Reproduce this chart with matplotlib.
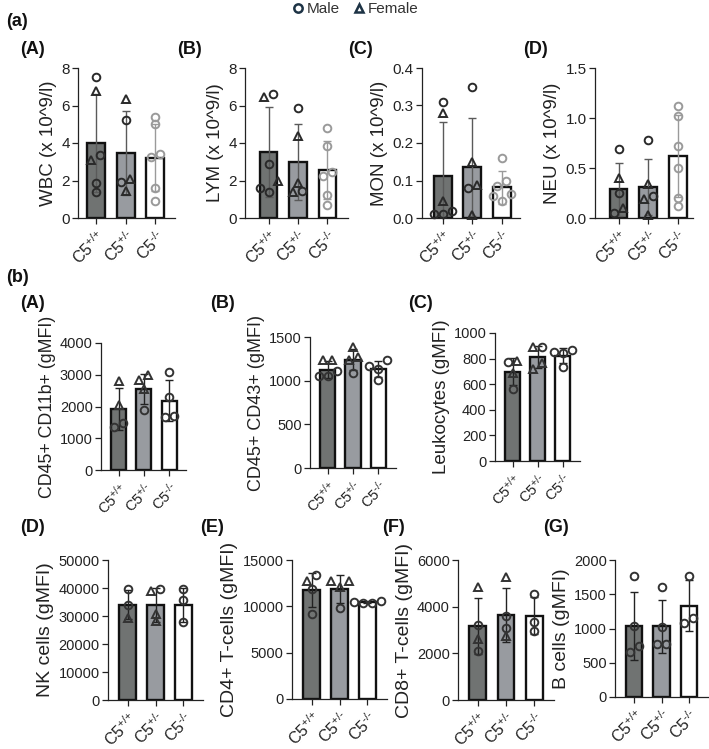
import numpy as np
import matplotlib
matplotlib.use('Agg')
import matplotlib.pyplot as plt
from matplotlib.lines import Line2D
from matplotlib.ticker import FormatStrFormatter

plt.rcParams['font.family'] = ['Liberation Sans', 'DejaVu Sans']
plt.rcParams['mathtext.fontset'] = 'custom'
plt.rcParams['mathtext.rm'] = 'Liberation Sans'
plt.rcParams['mathtext.default'] = 'regular'

W, H = 709, 749
groups = [r'C5$^{\text{+/+}}$', r'C5$^{\text{+/-}}$', r'C5$^{\text{-/-}}$']

# ---- (a) blood counts, x 10^9/l
wbc_vals = [[7.5, 6.8, 3.1, 3.35, 1.85, 1.4], [6.35, 5.25, 2.1, 1.9, 1.45], [5.4, 5.0, 3.25, 3.4, 1.6, 0.9]]
wbc_sex = ['MFFMMM', 'FMFMF', 'MMMMMM']
wbc_mean = [4.0, 3.45, 3.22]
wbc_sd = [2.6, 2.24, 1.8]

lym_vals = [[6.45, 6.6, 2.9, 1.95, 1.4, 1.6], [5.85, 4.35, 1.85, 1.4, 1.45], [4.8, 3.85, 2.25, 2.45, 1.25, 0.7]]
lym_sex = ['FMMFMM', 'MFFFM', 'MMMMMM']
lym_mean = [3.5, 3.0, 2.55]
lym_sd = [2.4, 2.03, 1.55]

mon_vals = [[0.31, 0.28, 0.045, 0.02, 0.012, 0.012], [0.35, 0.15, 0.088, 0.08, 0.008], [0.16, 0.10, 0.085, 0.065, 0.06, 0.045]]
mon_sex = ['MFFMMM', 'MFFMF', 'MMMMMM']
mon_mean = [0.113, 0.136, 0.082]
mon_sd = [0.143, 0.13, 0.044]

neu_vals = [[0.69, 0.40, 0.25, 0.10, 0.05], [0.78, 0.34, 0.22, 0.19, 0.03], [1.12, 1.02, 0.72, 0.50, 0.20, 0.12]]
neu_sex = ['MFMFM', 'MFMFF', 'MMMMMM']
neu_mean = [0.29, 0.315, 0.62]
neu_sd = [0.265, 0.28, 0.41]

# ---- (b) gMFI
cd11b_vals = [[2800, 2050, 1370, 1475], [2980, 2820, 2540, 1900], [3080, 2290, 1660, 1715]]
cd11b_sex = ['FFMM', 'FFFM', 'MMMM']
cd11b_mean = [1910, 2550, 2180]
cd11b_sd = [660, 470, 650]

cd43_vals = [[1240, 1240, 1110, 1055, 1050], [1385, 1275, 1235, 1085], [1235, 1170, 1135, 1010]]
cd43_sex = ['FFMMM', 'FFFM', 'MMMM']
cd43_mean = [1125, 1240, 1135]
cd43_sd = [95, 120, 95]

leu_vals = [[775, 780, 685, 560], [888, 890, 769, 722], [868, 847, 852, 732]]
leu_sex = ['MFFM', 'FMFF', 'MMMM']
leu_mean = [697, 810, 822]
leu_sd = [105, 85, 58]

nk_vals = [[39600, 33800, 29200], [39000, 39800, 30800, 28300], [39600, 35600, 27700]]
nk_sex = ['MMF', 'FMFF', 'MMM']
nk_mean = [34100, 34000, 34000]
nk_sd = [5300, 6000, 6000]

cd4_vals = [[12700, 13400, 11900, 9160], [12700, 12770, 12100, 9850], [10550, 10450, 10400, 10350]]
cd4_sex = ['FMMM', 'FFFM', 'MMMM']
cd4_mean = [11800, 11900, 10430]
cd4_sd = [1850, 1500, 90]

cd8_vals = [[4860, 3210, 2600, 2110], [5290, 3610, 3070, 2760], [4530, 3360, 2970]]
cd8_sex = ['FMFM', 'FMMF', 'MMM']
cd8_mean = [3180, 3640, 3620]
cd8_sd = [1200, 1140, 800]

bc_vals = [[1760, 1035, 750, 660], [1600, 1015, 775, 775], [1760, 1160, 1075]]
bc_sex = ['MMMM', 'MMMM', 'MMM']
bc_mean = [1040, 1030, 1335]
bc_sd = [500, 390, 370]

bar_colors = ['#707372', '#989ba0', '#ffffff']

fig = plt.figure(figsize=(W / 100, H / 100), dpi=100)


def spread(vals, ypx, step):
    # small horizontal offsets so that close points do not overlap
    order = np.argsort(vals)
    offs = np.zeros(len(vals))
    clusters = [[order[0]]]
    for k in order[1:]:
        if abs(vals[k] - vals[clusters[-1][-1]]) * ypx < 7:
            clusters[-1].append(k)
        else:
            clusters.append([k])
    for c in clusters:
        n = len(c)
        if n == 1:
            continue
        pos = [0, -1, 1, -2, 2] if n % 2 else [-0.5, 0.5, -1.5, 1.5]
        for j, k in enumerate(c):
            offs[k] = pos[j] * step
    return offs


def panel(box, xl, xr, vals, sex, mean, sd, ymax, ystep, ylabel, fmt=None,
          light=False, tfs=11, lfs=13.5, xfs=11.5):
    x0, y0, x1, y1 = box
    ax = fig.add_axes([x0 / W, 1 - y1 / H, (x1 - x0) / W, (y1 - y0) / H])
    xpx = (x1 - x0) / (xr - xl)
    ypx = (y1 - y0) / ymax
    for i in range(3):
        ax.bar(i, mean[i], width=0.6, color=bar_colors[i], edgecolor='#111111',
               linewidth=1.7, zorder=1)
        if light:
            ecol = '#9a9a9a' if i == 2 else '#5a5a5a'
            mcol = '#9a9a9a' if i == 2 else '#2a2a2a'
        else:
            ecol = '#222222'
            mcol = '#333333'
        ax.errorbar(i, mean[i], yerr=sd[i], color=ecol, lw=1, capsize=3,
                    capthick=1, zorder=2)
        v = np.array(vals[i], dtype=float)
        offs = spread(v, ypx, 9 / xpx)
        for k in range(len(v)):
            m = 'o' if sex[i][k] == 'M' else '^'
            ax.plot(i + offs[k], v[k], marker=m, ls='none', ms=5.5, mfc='none',
                    mec=mcol, mew=1.4, zorder=3, clip_on=False)
    ax.set_xlim(xl, xr)
    ax.set_ylim(0, ymax)
    ax.set_yticks(np.arange(0, ymax + ystep / 2, ystep))
    if fmt:
        ax.yaxis.set_major_formatter(FormatStrFormatter(fmt))
    ax.set_xticks(range(3))
    ax.set_xticklabels(groups, rotation=45, ha='right', rotation_mode='anchor',
                       fontsize=xfs)
    ax.tick_params(axis='y', labelsize=tfs, length=4, width=0.9, colors='#222222', pad=2)
    ax.tick_params(axis='x', length=4, width=0.9, colors='#222222', pad=3)
    for s in ['top', 'right']:
        ax.spines[s].set_visible(False)
    for s in ['left', 'bottom']:
        ax.spines[s].set_linewidth(0.9)
        ax.spines[s].set_color('#222222')
    ax.set_ylabel(ylabel, fontsize=lfs, color='#222222', labelpad=3)
    return ax


# (a) row
panel((78, 68, 175, 218), -0.6, 2.66, wbc_vals, wbc_sex, wbc_mean, wbc_sd, 8, 2,
      'WBC (x 10^9/l)', light=True)
panel((245, 68, 348, 218), -0.8, 2.7, lym_vals, lym_sex, lym_mean, lym_sd, 8, 2,
      'LYM (x 10^9/l)', light=True)
panel((422, 68, 520, 218), -0.7, 2.62, mon_vals, mon_sex, mon_mean, mon_sd, 0.4, 0.1,
      'MON (x 10^9/l)', fmt='%.1f', light=True)
panel((595, 68, 693, 218), -0.8, 2.52, neu_vals, neu_sex, neu_mean, neu_sd, 1.5, 0.5,
      'NEU (x 10^9/l)', fmt='%.1f', light=True)

# (b) first row
panel((101, 343, 186, 470), -0.7, 2.67, cd11b_vals, cd11b_sex, cd11b_mean, cd11b_sd,
      4000, 1000, 'CD45+ CD11b+ (gMFI)', tfs=10.5, lfs=12.8, xfs=10.5)
panel((310, 337, 396, 468), -0.7, 2.7, cd43_vals, cd43_sex, cd43_mean, cd43_sd,
      1500, 500, 'CD45+ CD43+ (gMFI)', tfs=10.5, lfs=13, xfs=10.5)
panel((495, 333, 580, 461), -0.7, 2.7, leu_vals, leu_sex, leu_mean, leu_sd,
      1000, 200, 'Leukocytes (gMFI)', tfs=10.5, lfs=13.5, xfs=10.5)

# (b) second row
panel((108, 560, 203, 700), -0.7, 2.7, nk_vals, nk_sex, nk_mean, nk_sd,
      50000, 10000, 'NK cells (gMFI)', tfs=10.5, lfs=14)
panel((292, 560, 387, 699), -0.7, 2.7, cd4_vals, cd4_sex, cd4_mean, cd4_sd,
      15000, 5000, 'CD4+ T-cells (gMFI)', tfs=10.5, lfs=14)
panel((458, 560, 554, 700), -0.7, 2.7, cd8_vals, cd8_sex, cd8_mean, cd8_sd,
      6000, 2000, 'CD8+ T-cells (gMFI)', tfs=10.5, lfs=14)
panel((615, 560, 708, 697), -0.7, 2.7, bc_vals, bc_sex, bc_mean, bc_sd,
      2000, 500, 'B cells (gMFI)', tfs=10.5, lfs=14)

# panel letters
letters = [('(a)', 6, 22), ('(A)', 20, 50), ('(B)', 177, 50), ('(C)', 348, 50), ('(D)', 523, 50),
           ('(b)', 6, 278), ('(A)', 20, 303), ('(B)', 210, 303), ('(C)', 408, 303),
           ('(D)', 20, 528), ('(E)', 200, 528), ('(F)', 382, 528), ('(G)', 543, 528)]
for t, x, y in letters:
    fig.text(x / W, 1 - y / H, t, fontsize=13, fontweight='bold', ha='left', va='center',
             color='#111111')

handles = [Line2D([], [], marker='o', ls='none', mfc='none', mec='#1d3345', mew=1.8, ms=6),
           Line2D([], [], marker='^', ls='none', mfc='none', mec='#1d3345', mew=1.8, ms=6)]
leg = fig.legend(handles, ['Male', 'Female'], loc='upper center', bbox_to_anchor=(0.5, 1.005),
                 ncol=2, frameon=False, handletextpad=0.1, columnspacing=0.7, fontsize=11,
                 handlelength=1.0, borderaxespad=0)
for t in leg.get_texts():
    t.set_color('#333333')

fig.savefig('out.png', dpi=100)
